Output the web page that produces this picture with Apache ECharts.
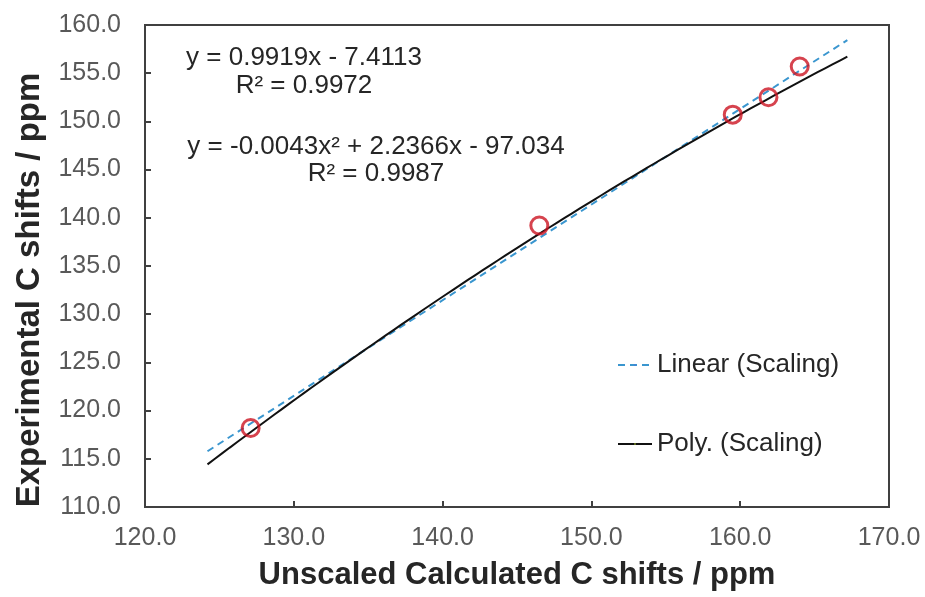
<!DOCTYPE html>
<html>
<head>
<meta charset="utf-8">
<script src="https://cdn.jsdelivr.net/npm/echarts@6/dist/echarts.min.js"></script>
<style>
  html, body { margin: 0; padding: 0; background: #fff; }
  #chart { width: 925px; height: 597px; }
</style>
</head>
<body>
<div id="chart"></div>
<script>
// Calculated vs. experimental carbon shifts (ppm)
const calcShifts = [127.1, 146.5, 159.5, 161.9, 164.0];
const expShifts  = [118.2, 139.2, 150.7, 152.5, 155.7];

// Trendline coefficients as shown in the equation labels
const linearCoef = [0.9919, -7.4113];           // slope, intercept
const polyCoef   = [-0.0043, 2.2366, -97.034];  // a, b, c
const trendRange = [124.2, 167.2];

const xTicks = [120, 130, 140, 150, 160, 170];
const yTicks = [110, 115, 120, 125, 130, 135, 140, 145, 150, 155, 160];

const linearLine = trendRange.map(x => [x, linearCoef[0] * x + linearCoef[1]]);
const polyLine = [];
for (let x = trendRange[0]; x <= trendRange[1] + 1e-9; x += 0.5) {
  polyLine.push([x, polyCoef[0] * x * x + polyCoef[1] * x + polyCoef[2]]);
}

const scatterData = calcShifts.map((x, i) => [x, expShifts[i]]);

const font = 'Liberation Sans, Arial, sans-serif';
const textColor = '#262626';
const chart = echarts.init(document.getElementById('chart'));

function eqText(text, cx, cy) {
  return {
    type: 'text', x: cx, y: cy,
    style: { text: text, font: '26px ' + font, fill: textColor,
             align: 'center', verticalAlign: 'middle' }
  };
}

chart.setOption({
  animation: false,
  grid: {
    left: 145, right: 36, top: 25, bottom: 90,
    show: true, borderColor: '#404040', borderWidth: 2
  },
  xAxis: {
    type: 'value',
    min: xTicks[0], max: xTicks[xTicks.length - 1], interval: 10,
    name: 'Unscaled Calculated C shifts / ppm',
    nameLocation: 'middle', nameGap: 53,
    nameTextStyle: { fontFamily: font, fontSize: 31, fontWeight: 'bold', color: textColor },
    axisLine: { show: true, lineStyle: { color: '#404040', width: 2 } },
    axisTick: { show: true, inside: true, length: 6, lineStyle: { color: '#404040', width: 2 } },
    axisLabel: { fontFamily: font, fontSize: 25, color: '#595959', margin: 19,
                 formatter: v => v.toFixed(1) },
    splitLine: { show: false }
  },
  yAxis: {
    type: 'value',
    min: yTicks[0], max: yTicks[yTicks.length - 1], interval: 5,
    axisLine: { show: true, lineStyle: { color: '#404040', width: 2 } },
    axisTick: { show: true, inside: true, length: 6, lineStyle: { color: '#404040', width: 2 } },
    axisLabel: { fontFamily: font, fontSize: 25, color: '#595959', margin: 24,
                 formatter: v => v.toFixed(1) },
    splitLine: { show: false }
  },
  legend: {
    orient: 'vertical',
    left: 612, top: 347,
    itemGap: 53, itemWidth: 34, itemHeight: 2,
    data: ['Linear (Scaling)', 'Poly. (Scaling)'],
    textStyle: { fontFamily: font, fontSize: 26, color: textColor }
  },
  series: [
    {
      name: 'Linear (Scaling)',
      type: 'line',
      data: linearLine,
      showSymbol: false, symbol: 'none',
      lineStyle: { color: '#3a96cf', width: 2, type: [7, 5] },
      z: 2
    },
    {
      name: 'Poly. (Scaling)',
      type: 'line',
      data: polyLine,
      showSymbol: false, symbol: 'none', smooth: false,
      lineStyle: { color: '#111', width: 2 },
      z: 3
    },
    {
      name: 'Scaling',
      type: 'scatter',
      data: scatterData,
      symbol: 'circle', symbolSize: 17,
      itemStyle: { color: 'rgba(255,255,255,0)', borderColor: '#cc1422', borderWidth: 3 },
      z: 4
    }
  ],
  graphic: [
    {
      type: 'text', x: 30, y: 290, rotation: Math.PI / 2,
      style: { text: 'Experimental C shifts / ppm', font: 'bold 33px ' + font,
               fill: textColor, align: 'center', verticalAlign: 'middle' }
    },
    eqText('y = 0.9919x - 7.4113', 304, 58),
    eqText('R² = 0.9972', 304, 86),
    eqText('y = -0.0043x² + 2.2366x - 97.034', 376, 147),
    eqText('R² = 0.9987', 376, 174)
  ]
});
</script>
</body>
</html>
